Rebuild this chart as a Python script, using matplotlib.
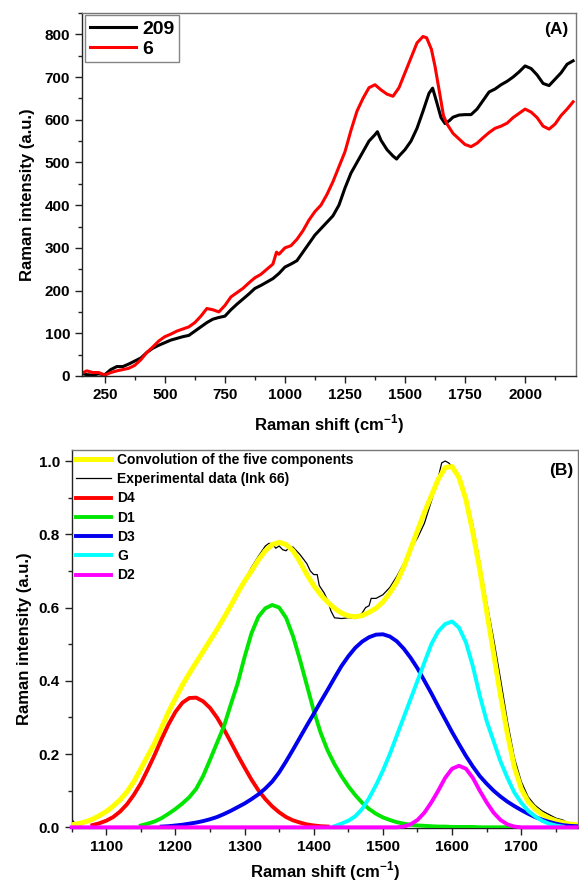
import matplotlib
matplotlib.use("Agg")
import matplotlib.pyplot as plt
from matplotlib.ticker import MultipleLocator, FormatStrFormatter

plt.rcParams['font.family'] = ['Liberation Sans', 'DejaVu Sans']
plt.rcParams['font.weight'] = 'bold'
plt.rcParams['mathtext.fontset'] = 'custom'
plt.rcParams['mathtext.bf'] = 'Liberation Sans:bold'
plt.rcParams['mathtext.rm'] = 'Liberation Sans:bold'

# ---- panel A: raw spectra ----
shift_209 = [160, 175, 200, 225, 250, 275, 300, 325, 350, 375, 400, 425, 450, 475, 500,
             525, 550, 575, 600, 625, 650, 675, 700, 725, 750, 775, 800, 825, 850, 875,
             900, 925, 950, 975, 1000, 1025, 1050, 1075, 1100, 1125, 1150, 1175, 1200,
             1225, 1250, 1275, 1300, 1325, 1350, 1375, 1385, 1400, 1425, 1450, 1465,
             1475, 1500, 1525, 1550, 1575, 1600, 1615, 1630, 1650, 1667, 1685, 1700,
             1725, 1750, 1775, 1800, 1825, 1850, 1875, 1900, 1925, 1950, 1975, 2000,
             2025, 2050, 2075, 2100, 2125, 2150, 2175, 2200]
int_209 = [5, 3, 2, 5, 3, 15, 22, 22, 28, 35, 42, 55, 65, 72, 78,
           84, 88, 92, 95, 105, 115, 125, 133, 137, 140, 155, 168, 180, 192, 205,
           212, 220, 228, 240, 255, 262, 270, 290, 310, 330, 345, 360, 375,
           400, 440, 475, 500, 525, 550, 565, 572, 552, 530, 515, 508,
           515, 530, 550, 580, 620, 662, 674, 645, 605, 591, 598, 606,
           611, 612, 612, 625, 645, 665, 672, 682, 690, 700, 712, 726,
           720, 705, 685, 680, 695, 710, 730, 738]

shift_6 = [160, 175, 200, 225, 250, 275, 300, 325, 350, 375, 400, 425, 450, 475, 500,
           525, 550, 575, 600, 625, 650, 675, 700, 725, 750, 775, 800, 825, 850, 875,
           900, 925, 950, 965, 975, 1000, 1025, 1050, 1075, 1100, 1125, 1150, 1175,
           1200, 1225, 1250, 1275, 1300, 1325, 1350, 1375, 1400, 1425, 1450, 1475,
           1500, 1525, 1550, 1575, 1590, 1610, 1625, 1645, 1660, 1675, 1700, 1725,
           1750, 1775, 1800, 1825, 1850, 1875, 1900, 1925, 1950, 1975, 2000, 2025,
           2050, 2075, 2100, 2125, 2150, 2175, 2200]
int_6 = [8, 12, 8, 8, 2, 8, 12, 15, 18, 25, 38, 55, 68, 82, 92,
         98, 105, 110, 115, 125, 140, 158, 155, 150, 165, 185, 195, 205, 218, 230,
         238, 250, 262, 290, 285, 300, 305, 320, 340, 365, 385, 400, 425,
         455, 490, 525, 575, 620, 650, 675, 682, 670, 660, 655, 675,
         710, 745, 780, 795, 792, 765, 725, 660, 610, 590, 568, 555,
         542, 537, 545, 558, 570, 580, 585, 592, 605, 615, 625, 618,
         605, 585, 578, 590, 610, 625, 642]

# ---- panel B: band fit of ink 66 ----
shift_fit = list(range(1050, 1790, 10))
conv = [0.007, 0.010, 0.015, 0.022, 0.032, 0.043, 0.058, 0.075, 0.097, 0.125,
        0.160, 0.195, 0.230, 0.272, 0.315, 0.352, 0.388, 0.420, 0.450, 0.480,
        0.510, 0.540, 0.572, 0.605, 0.640, 0.672, 0.700, 0.730, 0.755, 0.772,
        0.778, 0.772, 0.755, 0.725, 0.690, 0.660, 0.635, 0.615, 0.598, 0.585,
        0.577, 0.575, 0.578, 0.587, 0.598, 0.615, 0.640, 0.670, 0.710, 0.760,
        0.810, 0.860, 0.905, 0.950, 0.982, 0.985, 0.955, 0.895, 0.805, 0.705,
        0.590, 0.475, 0.360, 0.255, 0.165, 0.105, 0.070, 0.050, 0.035, 0.025,
        0.018, 0.013, 0.009, 0.007]

shift_exp = [1050, 1055, 1060, 1070, 1080, 1090, 1100, 1110, 1120, 1130, 1140, 1150,
             1160, 1170, 1180, 1190, 1200, 1210, 1220, 1230, 1240, 1250, 1260, 1270,
             1280, 1290, 1300, 1310, 1320, 1330, 1335, 1340, 1345, 1350, 1355, 1360,
             1365, 1370, 1380, 1390, 1395, 1400, 1405, 1408, 1415, 1420, 1425, 1430,
             1440, 1450, 1460, 1465, 1470, 1475, 1480, 1483, 1490, 1500, 1510, 1520,
             1530, 1540, 1550, 1560, 1570, 1580, 1585, 1590, 1595, 1600, 1610, 1620,
             1630, 1640, 1650, 1660, 1670, 1680, 1690, 1700, 1710, 1720,
             1730, 1740, 1750, 1760, 1765, 1770, 1780]
exp_66 = [0.022, 0.010, 0.004, 0.012, 0.025, 0.027, 0.040, 0.055, 0.075, 0.100, 0.130, 0.165,
          0.200, 0.237, 0.278, 0.315, 0.350, 0.386, 0.420, 0.455, 0.485, 0.515, 0.545, 0.575,
          0.605, 0.640, 0.675, 0.710, 0.740, 0.768, 0.775, 0.775, 0.762, 0.768, 0.758, 0.755,
          0.765, 0.765, 0.745, 0.720, 0.700, 0.690, 0.690, 0.660, 0.640, 0.620, 0.590, 0.572,
          0.570, 0.572, 0.570, 0.575, 0.585, 0.600, 0.605, 0.625, 0.625, 0.635, 0.655, 0.685,
          0.720, 0.760, 0.790, 0.830, 0.890, 0.955, 0.995, 1.000, 0.995, 0.985, 0.960, 0.905,
          0.825, 0.725, 0.615, 0.515, 0.405, 0.290, 0.190, 0.125, 0.083, 0.060,
          0.045, 0.035, 0.025, 0.020, 0.015, 0.008, 0.006]

shift_d4 = list(range(1080, 1430, 10))
d4 = [0.006, 0.011, 0.018, 0.028, 0.043, 0.063, 0.089, 0.120, 0.158, 0.198, 0.241, 0.281,
      0.315, 0.340, 0.353, 0.354, 0.344, 0.326, 0.300, 0.268, 0.233, 0.197, 0.163, 0.130,
      0.101, 0.077, 0.057, 0.041, 0.028, 0.019, 0.013, 0.008, 0.005, 0.003, 0.002]

shift_d1 = list(range(1150, 1700, 10))
d1 = [0.005, 0.010, 0.016, 0.025, 0.037, 0.050, 0.065, 0.082, 0.105, 0.140, 0.184, 0.230,
      0.275, 0.335, 0.393, 0.465, 0.530, 0.575, 0.598, 0.607, 0.600, 0.572, 0.522, 0.458,
      0.388, 0.318, 0.258, 0.210, 0.172, 0.140, 0.112, 0.088, 0.067, 0.050, 0.037, 0.027,
      0.020, 0.014, 0.010, 0.007, 0.005, 0.004, 0.003, 0.002, 0.002, 0.001, 0.001, 0.001,
      0.001, 0.0, 0.0, 0.0, 0.0, 0.0, 0.0]

shift_d3 = list(range(1180, 1790, 10))
d3 = [0.002, 0.003, 0.005, 0.007, 0.010, 0.013, 0.017, 0.022, 0.028, 0.036, 0.045, 0.055,
      0.065, 0.077, 0.090, 0.106, 0.125, 0.150, 0.180, 0.212, 0.245, 0.278, 0.310, 0.343,
      0.375, 0.408, 0.440, 0.467, 0.490, 0.507, 0.519, 0.526, 0.527, 0.521, 0.508, 0.488,
      0.463, 0.434, 0.400, 0.366, 0.330, 0.295, 0.260, 0.227, 0.195, 0.166, 0.140, 0.119,
      0.100, 0.084, 0.070, 0.058, 0.047, 0.037, 0.028, 0.021, 0.015, 0.010, 0.006, 0.004,
      0.003]

shift_g = list(range(1430, 1770, 10))
g_band = [0.003, 0.010, 0.018, 0.030, 0.050, 0.080, 0.115, 0.155, 0.200, 0.250, 0.300,
          0.350, 0.400, 0.450, 0.500, 0.535, 0.555, 0.562, 0.545, 0.505, 0.440, 0.360,
          0.290, 0.235, 0.180, 0.135, 0.095, 0.067, 0.045, 0.030, 0.018, 0.010, 0.005,
          0.002]

shift_d2 = [1050] + list(range(1520, 1710, 10)) + [1780]
d2 = [0.0, 0.0, 0.002, 0.008, 0.020, 0.040, 0.068, 0.100, 0.135, 0.160, 0.168, 0.160,
      0.135, 0.100, 0.068, 0.040, 0.020, 0.008, 0.002, 0.0, 0.0]

fig = plt.figure(figsize=(5.79, 8.84), dpi=100)


def style_axes(ax):
    for side in ['top', 'right']:
        ax.spines[side].set_color('#777777')
    for side in ['left', 'bottom']:
        ax.spines[side].set_color('#222222')
    for s in ax.spines.values():
        s.set_linewidth(1.0)
    ax.tick_params(which='both', direction='out', top=False, right=False,
                   labelsize=11, width=1.0, color='#222222')
    ax.tick_params(which='major', length=5)
    ax.tick_params(which='minor', length=3)
    for lab in ax.get_xticklabels() + ax.get_yticklabels():
        lab.set_fontweight('bold')


# panel A
ax1 = fig.add_axes([0.1416, 0.5747, 0.8532, 0.4106])
ax1.plot(shift_209, int_209, color='black', lw=2.2, label='209')
ax1.plot(shift_6, int_6, color='#ff0000', lw=2.2, label='6')
ax1.set_xlim(155, 2212)
ax1.set_ylim(0, 850)
ax1.xaxis.set_major_locator(MultipleLocator(250))
ax1.xaxis.set_minor_locator(MultipleLocator(125))
ax1.yaxis.set_major_locator(MultipleLocator(100))
ax1.yaxis.set_minor_locator(MultipleLocator(50))
style_axes(ax1)
ax1.set_xlabel(r'Raman shift (cm$^{\mathbf{-1}}$)', fontsize=12, fontweight='bold', labelpad=8)
ax1.set_ylabel('Raman intensity (a.u.)', fontsize=12, fontweight='bold', labelpad=7)
leg1 = ax1.legend(loc='upper left', bbox_to_anchor=(0.006, 0.994), fontsize=14,
                  handlelength=2.4, handletextpad=0.3, labelspacing=0.12,
                  borderpad=0.25, borderaxespad=0, fancybox=False, edgecolor='#666666')
leg1.get_frame().set_linewidth(1.0)
ax1.text(0.985, 0.975, '(A)', transform=ax1.transAxes, ha='right', va='top',
         fontsize=12.5, fontweight='bold')

# panel B
ax2 = fig.add_axes([0.1238, 0.0633, 0.8744, 0.4276])
ax2.plot(shift_exp, exp_66, color='black', lw=0.9, label='Experimental data (Ink 66)', zorder=2)
ax2.plot(shift_fit, conv, color='#ffff00', lw=3.6, label='Convolution of the five components', zorder=3)
ax2.plot(shift_d4, d4, color='#ff0000', lw=2.8, label='D4', zorder=4)
ax2.plot(shift_d1, d1, color='#00e600', lw=2.8, label='D1', zorder=4)
ax2.plot(shift_d3, d3, color='#0000ee', lw=2.8, label='D3', zorder=4)
ax2.plot(shift_g, g_band, color='#00ffff', lw=2.8, label='G', zorder=5)
ax2.plot(shift_d2, d2, color='#ff00ff', lw=2.8, label='D2', zorder=6, clip_on=False)
ax2.set_xlim(1050, 1782)
ax2.set_ylim(-0.002, 1.03)
ax2.xaxis.set_major_locator(MultipleLocator(100))
ax2.xaxis.set_minor_locator(MultipleLocator(50))
ax2.yaxis.set_major_locator(MultipleLocator(0.2))
ax2.yaxis.set_minor_locator(MultipleLocator(0.1))
ax2.yaxis.set_major_formatter(FormatStrFormatter('%.1f'))
style_axes(ax2)
ax2.set_xlabel(r'Raman shift (cm$^{\mathbf{-1}}$)', fontsize=12, fontweight='bold', labelpad=4)
ax2.set_ylabel('Raman intensity (a.u.)', fontsize=12, fontweight='bold', labelpad=5)
h, l = ax2.get_legend_handles_labels()
order = [1, 0, 2, 3, 4, 5, 6]
ax2.legend([h[i] for i in order], [l[i] for i in order], loc='upper left',
           bbox_to_anchor=(0.004, 1.0), fontsize=10, frameon=False,
           handlelength=2.5, handletextpad=0.45, labelspacing=0.38,
           borderpad=0.2, borderaxespad=0)
ax2.text(0.99, 0.965, '(B)', transform=ax2.transAxes, ha='right', va='top',
         fontsize=12.5, fontweight='bold')

fig.savefig('out.png', dpi=100)
